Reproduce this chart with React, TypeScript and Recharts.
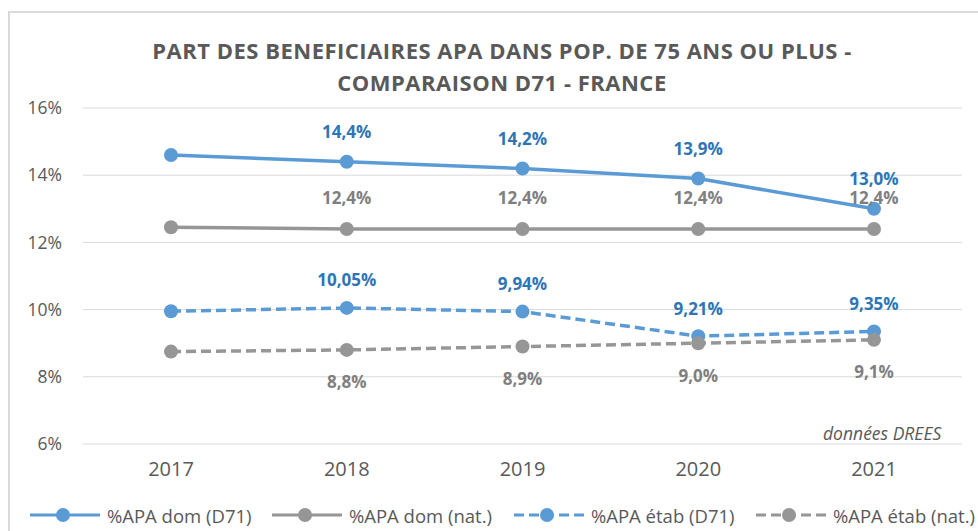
import React from "react"
import {
  LineChart,
  Line,
  XAxis,
  YAxis,
  CartesianGrid,
  Legend,
  LabelList,
} from "recharts"

const years = ["2017", "2018", "2019", "2020", "2021"]
const domD71 = [14.6, 14.4, 14.2, 13.9, 13.0]
const domNat = [12.45, 12.4, 12.4, 12.4, 12.4]
const etabD71 = [9.95, 10.05, 9.94, 9.21, 9.35]
const etabNat = [8.75, 8.8, 8.9, 9.0, 9.1]
const yTicks = [6, 8, 10, 12, 14, 16]

const data = years.map((year, i) => ({
  year,
  domD71: domD71[i],
  domNat: domNat[i],
  etabD71: etabD71[i],
  etabNat: etabNat[i],
}))

const BLUE = "#5B9BD5"
const GRAY = "#969696"
const BLUE_TXT = "#2E75B6"
const GRAY_TXT = "#7F7F7F"
const TXT = "#595959"
const FONT = "'Open Sans', sans-serif"

const series = [
  { key: "domD71", name: "%APA dom (D71)", color: BLUE, dash: undefined, txt: BLUE_TXT, dy: -30, dec: 1 },
  { key: "domNat", name: "%APA dom (nat.)", color: GRAY, dash: undefined, txt: GRAY_TXT, dy: -31, dec: 1 },
  { key: "etabD71", name: "%APA étab (D71)", color: BLUE, dash: "10 5", txt: BLUE_TXT, dy: -28, dec: 2 },
  { key: "etabNat", name: "%APA étab (nat.)", color: GRAY, dash: "10 5", txt: GRAY_TXT, dy: 32, dec: 1 },
]

const fmt = (v: number, dec: number) => v.toFixed(dec).replace(".", ",") + "%"

const makeLabel = (color: string, dy: number, dec: number) => (props: any) => {
  const { x, y, value, index } = props
  if (index === 0) return null
  return (
    <text
      x={x}
      y={y + dy}
      fill={color}
      fontSize={17}
      fontWeight={700}
      fontFamily={FONT}
      textAnchor="middle"
      dominantBaseline="central"
    >
      {fmt(value, dec)}
    </text>
  )
}

const LegendContent = () => (
  <div style={{ position: "relative", height: 32, width: 968 }}>
    {series.map((s, i) => (
      <div
        key={s.key}
        style={{
          position: "absolute",
          left: 20 + i * 242,
          top: 0,
          height: 32,
          display: "flex",
          alignItems: "center",
          whiteSpace: "nowrap",
        }}
      >
        <svg width={70} height={16}>
          <line x1={0} y1={8} x2={70} y2={8} stroke={s.color} strokeWidth={3} strokeDasharray={s.dash} />
          <circle cx={33} cy={8} r={7} fill={s.color} />
        </svg>
        <span style={{ marginLeft: 7, color: TXT, fontSize: 18.5, fontFamily: FONT }}>{s.name}</span>
      </div>
    ))}
  </div>
)

export default function App() {
  return (
    <div style={{ position: "relative", width: 978, height: 531, overflow: "hidden", fontFamily: FONT }}>
      <style>{"body{margin:0}"}</style>
      <div
        style={{
          position: "absolute",
          left: 8,
          top: 11,
          width: 990,
          height: 540,
          borderTop: "2px solid #D9D9D9",
          borderLeft: "2px solid #D9D9D9",
        }}
      >
        <div
          style={{
            position: "absolute",
            left: 0,
            top: 21,
            width: 984,
            textAlign: "center",
            color: TXT,
            fontWeight: 700,
            fontSize: 22,
            letterSpacing: 0.5,
            lineHeight: "32px",
            whiteSpace: "nowrap",
          }}
        >
          PART DES BENEFICIAIRES APA DANS POP. DE 75 ANS OU PLUS -<br />
          COMPARAISON D71 - FRANCE
        </div>
        <LineChart
          width={968}
          height={518}
          data={data}
          margin={{ top: 95, right: 16, left: 0, bottom: 0 }}
        >
          <CartesianGrid vertical={false} stroke="#D9D9D9" strokeWidth={1} />
          <XAxis
            dataKey="year"
            axisLine={false}
            tickLine={false}
            tickSize={0}
            tickMargin={18}
            height={55}
            padding={{ left: 88, right: 88 }}
            tick={{ fill: TXT, fontSize: 20, fontFamily: FONT }}
          />
          <YAxis
            domain={[6, 16]}
            ticks={yTicks}
            width={73}
            axisLine={false}
            tickLine={false}
            tickSize={0}
            tickMargin={21}
            tickFormatter={(v: number) => `${v}%`}
            tick={{ fill: TXT, fontSize: 17.5, fontFamily: FONT }}
          />
          <Legend
            verticalAlign="bottom"
            content={<LegendContent />}
            wrapperStyle={{ left: 0, width: 968 }}
          />
          {series.map((s) => (
            <Line
              key={s.key}
              dataKey={s.key}
              name={s.name}
              stroke={s.color}
              strokeWidth={3.5}
              strokeDasharray={s.dash}
              dot={{ r: 7, fill: s.color, stroke: s.color, strokeWidth: 0 }}
              activeDot={false}
              isAnimationActive={false}
            >
              <LabelList dataKey={s.key} content={makeLabel(s.txt, s.dy, s.dec)} />
            </Line>
          ))}
        </LineChart>
        <div
          style={{
            position: "absolute",
            left: 813,
            top: 408,
            color: TXT,
            fontStyle: "italic",
            fontSize: 17.5,
            whiteSpace: "nowrap",
          }}
        >
          données DREES
        </div>
      </div>
    </div>
  )
}
